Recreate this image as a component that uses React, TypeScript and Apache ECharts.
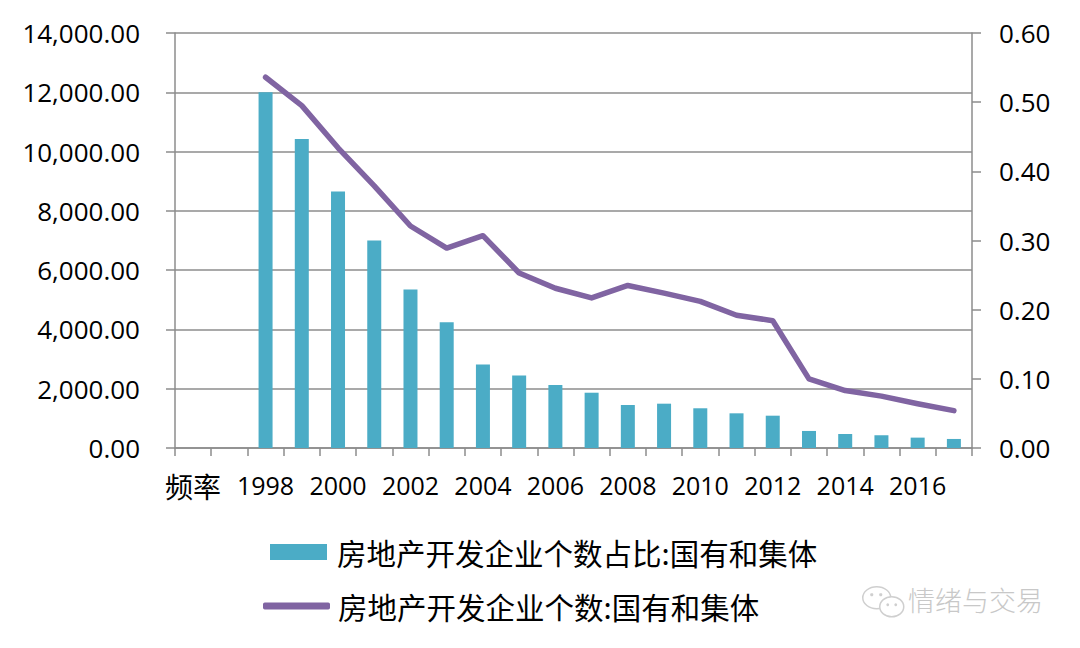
import React, { useEffect, useRef } from "react";
import * as echarts from "echarts";

const categories: string[] = [
  "频率", "", "1998", "1999", "2000", "2001", "2002", "2003", "2004", "2005", "2006",
  "2007", "2008", "2009", "2010", "2011", "2012", "2013", "2014", "2015", "2016", "2017",
];

const barName = "房地产开发企业个数占比:国有和集体";
const lineName = "房地产开发企业个数:国有和集体";

const barValues: (number | null)[] = [
  null, null, 12000, 10420, 8650, 7000, 5350, 4240, 2820, 2450, 2125,
  1865, 1450, 1495, 1340, 1170, 1090, 575, 472, 430, 350, 305,
];

const lineValues: (number | null)[] = [
  null, null, 0.536, 0.495, 0.434, 0.379, 0.321, 0.289, 0.307, 0.253, 0.231,
  0.217, 0.235, 0.224, 0.212, 0.192, 0.184, 0.1, 0.083, 0.075, 0.064, 0.054,
];

const leftMin = 0, leftMax = 14000, leftInterval = 2000;
const rightMin = 0, rightMax = 0.6, rightInterval = 0.1;

const FONT = "'Open Sans', 'Noto Sans CJK SC', sans-serif";
const CJK = "'Noto Sans CJK SC', sans-serif";
const GRID_COLOR = "#8c8c8c";

export default function App() {
  const ref = useRef<HTMLDivElement>(null);
  useEffect(() => {
    if (!ref.current) return;
    const chart = echarts.init(ref.current, undefined, { renderer: "svg" });
    chart.setOption({
      animation: false,
      backgroundColor: "#ffffff",
      grid: { left: 175, right: 108, top: 33, bottom: 200, containLabel: false },
      xAxis: {
        type: "category",
        data: categories,
        boundaryGap: true,
        axisLine: { show: true, lineStyle: { color: GRID_COLOR, width: 1.5 } },
        axisTick: { show: true, interval: 0, length: 8, lineStyle: { color: GRID_COLOR, width: 1.5 } },
        axisLabel: {
          interval: 1,
          fontSize: 25,
          color: "#000",
          fontFamily: FONT,
          margin: 24,
          formatter: (v: string) => (/^\d+$/.test(v) || v === "" ? v : `{cjk|${v}}`),
          rich: { cjk: { fontSize: 28, fontFamily: CJK, color: "#000" } },
        },
        splitLine: { show: false },
      },
      yAxis: [
        {
          type: "value",
          position: "left",
          min: leftMin,
          max: leftMax,
          interval: leftInterval,
          axisLine: { show: true, lineStyle: { color: GRID_COLOR, width: 1.5 } },
          axisTick: { show: true, length: 9, lineStyle: { color: GRID_COLOR, width: 1.5 } },
          splitLine: { show: true, lineStyle: { color: GRID_COLOR, width: 1.5 } },
          axisLabel: {
            fontSize: 26,
            color: "#000",
            fontFamily: FONT,
            margin: 35,
            formatter: (v: number) =>
              v.toLocaleString("en-US", { minimumFractionDigits: 2, maximumFractionDigits: 2 }),
          },
        },
        {
          type: "value",
          position: "right",
          min: rightMin,
          max: rightMax,
          interval: rightInterval,
          axisLine: { show: true, lineStyle: { color: GRID_COLOR, width: 1.5 } },
          axisTick: { show: true, length: 9, lineStyle: { color: GRID_COLOR, width: 1.5 } },
          splitLine: { show: false },
          axisLabel: {
            fontSize: 26,
            color: "#000",
            fontFamily: FONT,
            margin: 27,
            formatter: (v: number) => v.toFixed(2),
          },
        },
      ],
      legend: [
        {
          data: [{ name: barName, icon: "rect" }],
          orient: "vertical",
          left: 270,
          top: 534,
          padding: 0,
          itemWidth: 57,
          itemHeight: 16,
          itemStyle: { borderWidth: 0 },
          textStyle: { fontSize: 29.5, fontFamily: CJK, color: "#000", lineHeight: 36, padding: [0, 0, 0, 5] },
        },
        {
          data: [{ name: lineName, icon: "roundRect" }],
          orient: "vertical",
          left: 263,
          top: 588,
          padding: 0,
          itemWidth: 67,
          itemHeight: 7,
          itemStyle: { borderWidth: 0 },
          textStyle: { fontSize: 29.5, fontFamily: CJK, color: "#000", lineHeight: 36, padding: [0, 0, 0, 3] },
        },
      ],
      series: [
        {
          name: barName,
          type: "bar",
          yAxisIndex: 0,
          data: barValues,
          barWidth: 14,
          itemStyle: { color: "#4BACC6" },
        },
        {
          name: lineName,
          type: "line",
          yAxisIndex: 1,
          data: lineValues,
          symbol: "none",
          connectNulls: false,
          itemStyle: { color: "#8064A2" },
          lineStyle: { color: "#8064A2", width: 5.5, cap: "round", join: "round" },
        },
      ],
      graphic: [
        {
          type: "group",
          left: 862,
          top: 586,
          children: [
            { type: "ellipse", shape: { cx: 15, cy: 12, rx: 14, ry: 11 }, style: { fill: "#fff", stroke: "#cfcfcf", lineWidth: 1.5 } },
            { type: "ellipse", shape: { cx: 30, cy: 21, rx: 12, ry: 10 }, style: { fill: "#fff", stroke: "#cfcfcf", lineWidth: 1.5 } },
            { type: "circle", shape: { cx: 10, cy: 9, r: 1.6 }, style: { fill: "#cfcfcf" } },
            { type: "circle", shape: { cx: 19, cy: 9, r: 1.6 }, style: { fill: "#cfcfcf" } },
            { type: "circle", shape: { cx: 26, cy: 19, r: 1.4 }, style: { fill: "#cfcfcf" } },
            { type: "circle", shape: { cx: 34, cy: 19, r: 1.4 }, style: { fill: "#cfcfcf" } },
          ],
        },
        {
          type: "text",
          left: 908,
          top: 586,
          style: { text: "情绪与交易", fontSize: 27, fontFamily: CJK, fontWeight: 300, fill: "#c8c8c8" },
        },
      ],
    });
    return () => chart.dispose();
  }, []);
  return <div ref={ref} style={{ position: "fixed", left: 0, top: 0, width: 1080, height: 648 }} />;
}
